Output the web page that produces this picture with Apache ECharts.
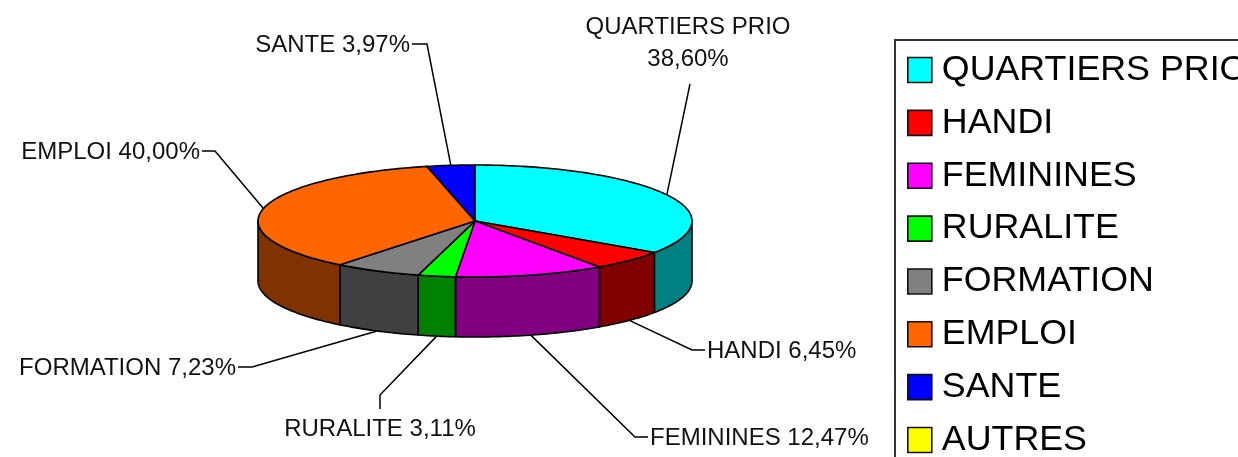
<!DOCTYPE html>
<html>
<head>
<meta charset="utf-8">
<title>Répartition</title>
<script src="https://cdn.jsdelivr.net/npm/echarts@6/dist/echarts.min.js"></script>
<style>
  html, body { margin: 0; padding: 0; background: #fff; overflow: hidden; }
  #chart { width: 1238px; height: 457px; }
</style>
</head>
<body>
<div id="chart"></div>
<script>
const categories = ["QUARTIERS PRIO", "HANDI", "FEMININES", "RURALITE", "FORMATION", "EMPLOI", "SANTE", "AUTRES"];
const values = [38.60, 6.45, 12.47, 3.11, 7.23, 40.00, 3.97, 0];
const topColors = ["#00ffff", "#ff0000", "#ff00ff", "#00ff00", "#808080", "#ff6600", "#0000ff", "#ffff00"];
const sideColors = ["#008080", "#800000", "#800080", "#008000", "#404040", "#803300", "#000080", "#808000"];

// the disc: the labels do not add up to 100, slices are shares of the real total
const cx = 475, cy = 221, rx = 217, ry = 56, depth = 60;
const total = values.reduce((a, b) => a + b, 0);

// elbow of each leader line, then where its label sits
const leaders = [
  {elbow: [[690, 84]], text: [688, 43], align: "center", twoLines: true},
  {elbow: [[692, 350], [705, 350]], text: [707, 351], align: "left"},
  {elbow: [[635, 437], [648, 437]], text: [650, 438], align: "left"},
  {elbow: [[380, 395], [380, 409]], text: [380, 429], align: "center"},
  {elbow: [[252, 367], [238, 367]], text: [236, 368], align: "right"},
  {elbow: [[215, 151], [202, 151]], text: [200, 152], align: "right"},
  {elbow: [[427, 44], [412, 44]], text: [410, 45], align: "right"}
];

function rimPoint(deg, drop) {
  const a = deg * Math.PI / 180;
  return [cx + rx * Math.sin(a), cy - ry * Math.cos(a) + (drop || 0)];
}

function arcPoints(from, to, drop) {
  const pts = [];
  const steps = Math.max(1, Math.ceil(Math.abs(to - from)));
  for (let s = 0; s <= steps; s++) {
    pts.push(rimPoint(from + (to - from) * s / steps, drop));
  }
  return pts;
}

function percentText(v) {
  return v.toFixed(2).replace(".", ",") + "%";
}

function startAngle(index) {
  let sum = 0;
  for (let i = 0; i < index; i++) sum += values[i];
  return sum / total * 360;
}

function sliceRenderer(index) {
  return function (params, api) {
    const value = api.value(0);
    if (!value) return {type: "group", children: []};

    const a0 = startAngle(index);
    const a1 = a0 + value / total * 360;
    const mid = (a0 + a1) / 2;
    const children = [];
    const edge = {stroke: "#000", lineWidth: 1.6, lineJoin: "round"};

    // wall, only the part facing us (90 to 270 degrees)
    const w0 = Math.max(a0, 90), w1 = Math.min(a1, 270);
    if (w1 > w0) {
      const wall = arcPoints(w0, w1, 0).concat(arcPoints(w1, w0, depth));
      children.push({
        type: "polygon",
        shape: {points: wall},
        style: Object.assign({fill: sideColors[index]}, edge)
      });
    }

    // top face
    children.push({
      type: "polygon",
      shape: {points: [[cx, cy]].concat(arcPoints(a0, a1, 0))},
      style: Object.assign({fill: topColors[index]}, edge)
    });

    // leader line starts on the rim, on the wall's lower edge for front slices
    const leader = leaders[index];
    const front = mid > 90 && mid < 270;
    const start = rimPoint(mid, front ? depth : 0);
    children.push({
      type: "polyline",
      shape: {points: [start].concat(leader.elbow)},
      style: {stroke: "#000", lineWidth: 1.5, fill: null},
      z2: 5
    });

    const label = leader.twoLines
      ? categories[index] + "\n" + percentText(value)
      : categories[index] + " " + percentText(value);
    children.push({
      type: "text",
      x: leader.text[0],
      y: leader.text[1],
      style: {
        text: label,
        align: leader.align,
        verticalAlign: "middle",
        font: "24px 'Liberation Sans', Arial, sans-serif",
        lineHeight: 32,
        fill: "#111"
      },
      z2: 6
    });

    return {type: "group", children: children};
  };
}

const chart = echarts.init(document.getElementById("chart"));
chart.setOption({
  backgroundColor: "#fff",
  animation: false,
  legend: {
    orient: "vertical",
    left: 895,
    top: 40,
    height: 600,
    padding: [12, 20, 17, 12],
    itemWidth: 24,
    itemHeight: 25,
    itemGap: 16.86,
    selectedMode: false,
    borderColor: "#333",
    borderWidth: 2,
    textStyle: {
      fontFamily: "'Liberation Sans', Arial, sans-serif",
      fontSize: 35.8,
      lineHeight: 25,
      color: "#000",
      padding: [0, 0, 0, 5]
    },
    data: categories.map((name, i) => ({
      name: name,
      icon: "rect",
      itemStyle: {color: topColors[i], borderColor: "#111", borderWidth: 1.6}
    }))
  },
  series: categories.map((name, i) => ({
    type: "custom",
    name: name,
    coordinateSystem: "none",
    silent: true,
    itemStyle: {color: topColors[i]},
    renderItem: sliceRenderer(i),
    data: [[values[i]]]
  }))
});
window.onresize = function () {
  chart.resize();
};
</script>
</body>
</html>
